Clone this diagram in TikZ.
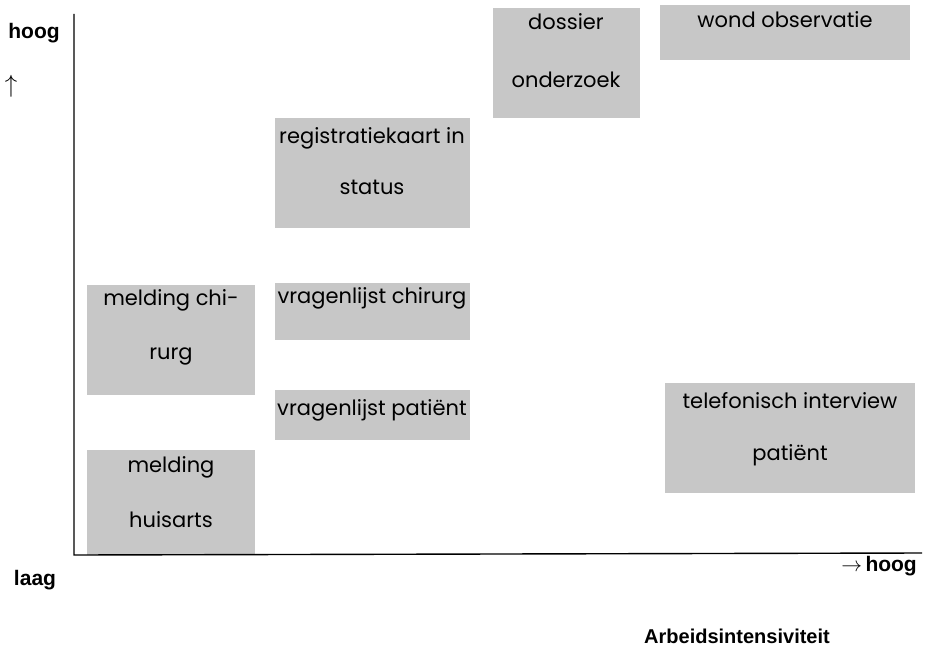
\documentclass[tikz,border=0pt]{standalone}
\usepackage{fontspec}
\setmainfont{Poppins}
\newfontfamily\lblfont{Liberation Sans}
\tikzset{
  x=1pt,y=-1pt,
  btext/.style={font=\fontsize{21}{24}\selectfont, inner sep=0pt, anchor=center, text=black},
  lbl/.style={font=\lblfont\bfseries\fontsize{21}{24}\selectfont, inner sep=0pt, text=black},
  axis/.style={line width=1.4pt, black}
}
\begin{document}
\begin{tikzpicture}
\useasboundingbox (0,0) rectangle (925,650);
% boxes
\fill[black!22] (493,8) rectangle (640,118);
\node[btext] (t1a) at (566,22) {dossier};
\node[btext] (t1b) at (566,80) {onderzoek};

\fill[black!22] (660,5) rectangle (910,60);
\node[btext] (t2) at (785,20) {wond observatie};

\fill[black!22] (275,118) rectangle (470,228);
\node[btext] (t3a) at (372,138) {registratiekaart in};
\node[btext] (t3b) at (372,187) {status};

\fill[black!22] (275,283) rectangle (470,340);
\node[btext] (t4) at (372,298) {vragenlijst chirurg};

\fill[black!22] (275,390) rectangle (470,440);
\node[btext] (t5) at (372,410) {vragenlijst patiënt};

\fill[black!22] (87,285) rectangle (255,395);
\node[btext] (t6a) at (171,300) {melding chi-};
\node[btext] (t6b) at (171,356) {rurg};

\fill[black!22] (87,450) rectangle (255,555);
\node[btext] (t7a) at (171,467) {melding};
\node[btext] (t7b) at (171,520) {huisarts};

\fill[black!22] (665,383) rectangle (915,493);
\node[btext] (t8a) at (790,401) {telefonisch interview};
\node[btext] (t8b) at (790,455) {patiënt};

% axes
\coordinate (o) at (74,555);
\coordinate (ytop) at (74,14);
\coordinate (xend) at (922,553);
\draw[axis] (ytop) -- (o) -- (xend);

% labels
\node[lbl] (hoogy) at (34,33) {hoog};
\node[inner sep=0pt, font=\fontsize{24}{26}\selectfont] (up) at (11,86) {$\uparrow$};
\node[lbl] (laag) at (35,580) {laag};
\node[lbl, anchor=east] (hoogx) at (917,566) {$\rightarrow$\,hoog};
\node[lbl, font=\lblfont\bfseries\fontsize{20}{23}\selectfont] (arb) at (737,636) {Arbeidsintensiviteit};
\end{tikzpicture}
\end{document}
